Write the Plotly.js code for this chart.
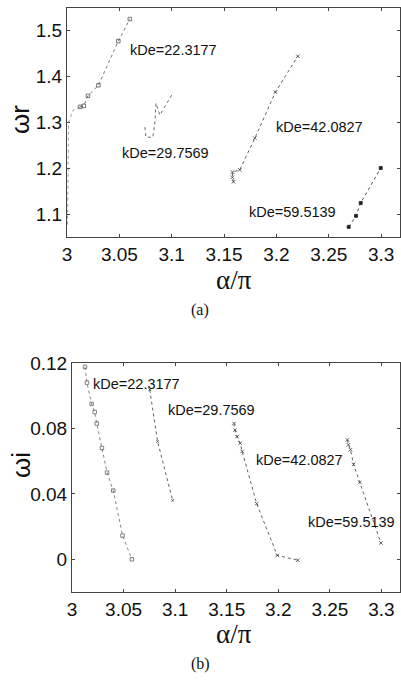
<!DOCTYPE html>
<html>
<head>
<meta charset="utf-8">
<script src="https://cdn.plot.ly/plotly-3.0.1.min.js"></script>
<style>
  html, body { margin: 0; padding: 0; background: #fff; }
  #chart { width: 401px; height: 681px; }
</style>
</head>
<body>
<div id="chart"></div>
<script>
// Real part of the frequency (ωr) against α/π, one branch per kDe
const kDeLabels = ["kDe=22.3177", "kDe=29.7569", "kDe=42.0827", "kDe=59.5139"];

const wr22_x = [3.0125, 3.016, 3.020, 3.030, 3.049, 3.060];
const wr22_y = [1.333, 1.335, 1.357, 1.380, 1.476, 1.524];
const wr22tail_x = [3.0125, 3.006, 3.0015, 3.001, 3.0005];
const wr22tail_y = [1.333, 1.326, 1.300, 1.200, 1.075];

const wr29_x = [3.0744, 3.0754, 3.082, 3.084, 3.085, 3.0887, 3.100];
const wr29_y = [1.289, 1.267, 1.267, 1.300, 1.341, 1.315, 1.359];

const wr42_x = [3.159, 3.158, 3.158, 3.165, 3.1794, 3.199, 3.2204];
const wr42_y = [1.170, 1.180, 1.191, 1.196, 1.265, 1.365, 1.443];

const wr59_x = [3.269, 3.276, 3.2805, 3.2996];
const wr59_y = [1.072, 1.096, 1.124, 1.200];

// Imaginary part of the frequency (ωi) against α/π
const wi22_x = [3.0126, 3.0145, 3.019, 3.022, 3.024, 3.029, 3.034, 3.040, 3.049, 3.058];
const wi22_y = [0.1176, 0.108, 0.095, 0.090, 0.083, 0.068, 0.053, 0.042, 0.0145, 0.000];

const wi29_x = [3.0754, 3.083, 3.0976];
const wi29_y = [0.1036, 0.072, 0.036];

const wi42_x = [3.157, 3.158, 3.160, 3.163, 3.165, 3.179, 3.199, 3.219];
const wi42_y = [0.083, 0.079, 0.075, 0.071, 0.066, 0.034, 0.0024, -0.0006];

const wi59_x = [3.267, 3.268, 3.270, 3.273, 3.279, 3.2995];
const wi59_y = [0.073, 0.070, 0.067, 0.058, 0.047, 0.010];

// Label anchors (α/π, ω) for each branch in both panels
const wrLabelX = [3.102, 3.0945, 3.2414, 3.2157];
const wrLabelY = [1.456, 1.233, 1.289, 1.104];
const wiLabelX = [3.0628, 3.135, 3.2203, 3.2705];
const wiLabelY = [0.1073, 0.0915, 0.0606, 0.023];

const xTicks = [3, 3.05, 3.1, 3.15, 3.2, 3.25, 3.3];
const wrTicks = [1.1, 1.2, 1.3, 1.4, 1.5];
const wiTicks = [0, 0.04, 0.08, 0.12];

const W = 401, H = 681;
const ink = "#3a3a3a";

function branch(x, y, symbol, xa, ya, size, filled, color) {
  const c = color || ink;
  const tr = {
    x: x, y: y, xaxis: xa, yaxis: ya, type: "scatter",
    mode: symbol ? "lines+markers" : "lines",
    line: { color: c, width: 0.8, dash: "dot" },
    showlegend: false, hoverinfo: "x+y"
  };
  if (symbol) {
    tr.marker = {
      symbol: filled ? symbol : symbol + "-open",
      size: size, color: c, line: { color: c, width: 0.8 }
    };
  }
  return tr;
}

const traces = [
  branch(wr22tail_x, wr22tail_y, null, "x", "y", 0, false, "#888"),
  branch(wr22_x, wr22_y, "square", "x", "y", 3.5, false, "#555"),
  branch(wr29_x, wr29_y, null, "x", "y", 0, false, "#444"),
  branch(wr42_x, wr42_y, "x-thin", "x", "y", 3.5, true),
  branch(wr59_x, wr59_y, "square", "x", "y", 3, true, "#222"),
  branch(wi22_x, wi22_y, "square", "x2", "y2", 3.5, false, "#666"),
  branch(wi29_x, wi29_y, "x-thin", "x2", "y2", 2.5, true),
  branch(wi42_x, wi42_y, "x-thin", "x2", "y2", 3.5, true),
  branch(wi59_x, wi59_y, "x-thin", "x2", "y2", 3.5, true)
];

const sans = "Liberation Sans, Arial, sans-serif";
const serif = "Liberation Serif, Times New Roman, serif";
const tickFont = { family: sans, size: 19, color: "#111" };

function axis(extra) {
  return Object.assign({
    showline: true, linecolor: "#444", linewidth: 1, mirror: "ticks",
    ticks: "inside", ticklen: 3, tickcolor: "#444",
    showgrid: false, zeroline: false, tickfont: tickFont
  }, extra);
}

const annotations = [];
kDeLabels.forEach((t, i) => {
  annotations.push({ x: wrLabelX[i], y: wrLabelY[i], xref: "x", yref: "y", text: t,
    showarrow: false, font: { family: sans, size: 14.5, color: "#111" } });
  annotations.push({ x: wiLabelX[i], y: wiLabelY[i], xref: "x2", yref: "y2", text: t,
    showarrow: false, font: { family: sans, size: 14.5, color: "#111" } });
});

[
  { text: "α/π", x: 234, y: 280, font: { family: serif, size: 27, color: "#111" } },
  { text: "α/π", x: 234, y: 634, font: { family: serif, size: 27, color: "#111" } },
  { text: "(a)", x: 200, y: 310, font: { family: serif, size: 16, color: "#111" } },
  { text: "(b)", x: 200, y: 664, font: { family: serif, size: 16, color: "#111" } },
  { text: "ωr", x: 20, y: 120, font: { family: sans, size: 26, color: "#111" }, textangle: -90 },
  { text: "ωi", x: 21, y: 465, font: { family: sans, size: 26, color: "#111" }, textangle: -90 }
].forEach(a => {
  annotations.push({
    text: a.text, xref: "paper", yref: "paper", x: a.x / W, y: 1 - a.y / H,
    xanchor: "center", yanchor: "middle", showarrow: false, font: a.font,
    textangle: a.textangle || 0, borderpad: 0
  });
});

const layout = {
  width: W, height: H,
  margin: { l: 0, r: 0, t: 0, b: 0 },
  paper_bgcolor: "#fff", plot_bgcolor: "#fff",
  xaxis: axis({ domain: [67 / W, 400 / W], range: [3, 3.318], tickvals: xTicks,
    ticktext: xTicks.map(String), anchor: "y" }),
  yaxis: axis({ domain: [1 - 237 / H, 1 - 8 / H], range: [1.05, 1.548], tickvals: wrTicks,
    ticktext: wrTicks.map(String), anchor: "x" }),
  xaxis2: axis({ domain: [72 / W, 400 / W], range: [3, 3.318], tickvals: xTicks,
    ticktext: xTicks.map(String), anchor: "y2" }),
  yaxis2: axis({ domain: [1 - 592 / H, 1 - 363 / H], range: [-0.02, 0.12], tickvals: wiTicks,
    ticktext: wiTicks.map(String), anchor: "x2" }),
  annotations: annotations
};

Plotly.newPlot("chart", traces, layout, { displayModeBar: false, staticPlot: true });
</script>
</body>
</html>
